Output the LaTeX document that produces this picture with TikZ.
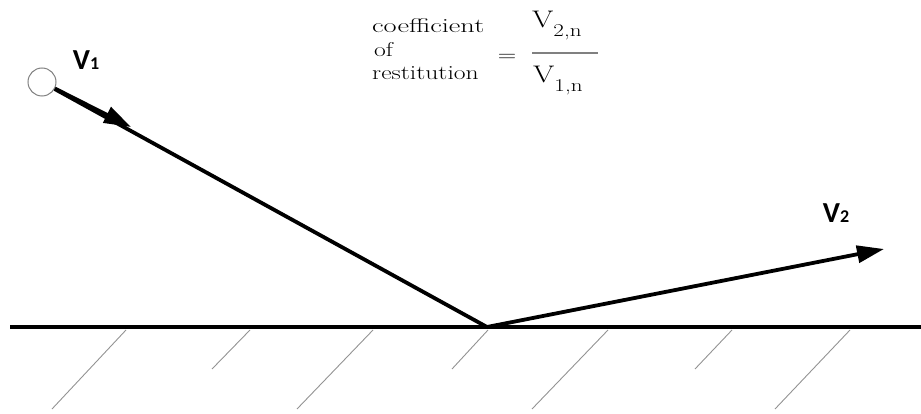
\documentclass[tikz,border=0pt]{standalone}
\usepackage{graphicx}
\usepackage{fontspec}
\newfontfamily\calibri{Carlito}
\usetikzlibrary{arrows.meta}
\newcommand{\wide}[2][1.28]{\scalebox{#1}[1]{#2}}
\begin{document}
\begin{tikzpicture}[x=1pt,y=-1pt,
  vec/.style={line width=3.8pt},
  tipstyle/.style={-{Triangle[length=27pt,width=17pt]}},
  ground/.style={line width=4pt},
  hatch/.style={gray!85, line width=0.9pt},
  formula/.style={font=\fontsize{20}{20}\selectfont, inner sep=0pt, text=black},
  vbig/.style={font=\fontsize{24}{24}\selectfont, inner sep=0pt, text=black},
  vlabel/.style={font=\calibri\bfseries\fontsize{29}{29}\selectfont, inner sep=0pt}]
\useasboundingbox (0,0) rectangle (921,414);
% ground
\coordinate (gl) at (10,327);
\coordinate (gr) at (921,327);
\draw[ground] (gl) -- (gr);
% hatches
\foreach \i/\xt/\xb/\yb in {1/126/52/409, 2/250/212/369, 3/373/297/409, 4/488/452/369, 5/608/532/409, 6/732/695/369, 7/850/775/409}{
  \coordinate (h\i a) at (\xt,330);
  \coordinate (h\i b) at (\xb,\yb);
  \draw[hatch] (h\i a) -- (h\i b);
}
% ball and vectors
\node[circle, draw=gray, minimum size=28pt, inner sep=0pt, line width=1pt] (ball) at (42,82) {};
\coordinate (c) at (487,327);
\coordinate (t1) at (131,127);
\coordinate (t2) at (884,249);
\draw[vec] (ball) -- (c);
\draw[vec, tipstyle] (ball) -- (t1);
\draw[vec, tipstyle] (c) -- (t2);
% labels
\node[vlabel] (v1) at (86,60) {V{\fontsize{18}{18}\selectfont 1}};
\node[vlabel] (v2) at (836,213) {V{\fontsize{18}{18}\selectfont 2}};
% formula
\node[formula, anchor=base west] (coef) at (372,33) {\wide[1.42]{coefficient}};
\node[formula, anchor=base west] (of) at (374,57) {\wide{of}};
\node[formula, anchor=base west] (rest) at (372,80) {\wide{restitution}};
\node[formula] (eq) at (507,58) {\wide{=}};
\coordinate (bl) at (532,53);
\coordinate (br) at (598,53);
\draw[gray, line width=1.2pt] (bl) -- (br);
\node[vbig, anchor=base west] (num) at (532,28) {\wide{V\raisebox{-9pt}{\fontsize{18}{18}\selectfont 2,n}}};
\node[vbig, anchor=base west] (den) at (533,83) {\wide{V\raisebox{-9pt}{\fontsize{18}{18}\selectfont 1,n}}};
\end{tikzpicture}
\end{document}
